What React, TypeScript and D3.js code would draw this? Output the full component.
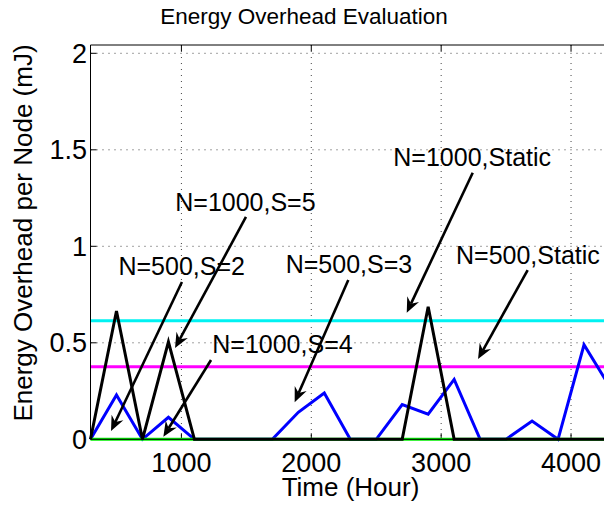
import React from "react";
import * as d3 from "d3";

const hours = [300, 500, 700, 900, 1100, 1300, 1500, 1700, 1900, 2100, 2300, 2500, 2700, 2900, 3100, 3300, 3500, 3700, 3900, 4100, 4300];
const blueSeries = [0, 0.23, 0, 0.114, 0, 0, 0, 0, 0.14, 0.24, 0, 0, 0.18, 0.13, 0.31, 0, 0, 0.095, 0, 0.49, 0.27];
const greenSeries = [0, 0, 0, 0, 0, 0, 0, 0, 0, 0, 0, 0, 0, 0, 0, 0, 0, 0, 0, 0, 0];
const blackSeries = [0, 0.665, 0, 0.505, 0, 0, 0, 0, 0, 0, 0, 0, 0, 0.687, 0, 0, 0, 0, 0, 0, 0];
const staticN1000 = 0.6145;
const staticN500 = 0.376;

const xTicks = [1000, 2000, 3000, 4000];
const yTicks = [0, 0.5, 1, 1.5, 2];
const yTickLabels = ["0", "0.5", "1", "1.5", "2"];

// annotation: label, text position (hour, mJ), arrow tail and head (hour, mJ)
const annLabels = ["N=500,S=2", "N=1000,S=5", "N=1000,S=4", "N=500,S=3", "N=1000,Static", "N=500,Static"];
const annText = [[1002, 0.851], [1493, 1.183], [1778, 0.446], [2290, 0.863], [3239, 1.416], [3668, 0.908]];
const annTail = [[1004, 0.815], [1497, 1.152], [1228, 0.411], [2285, 0.825], [3243, 1.381], [3666, 0.877]];
const annHead = [[458, 0.043], [951, 0.473], [861, 0.0135], [1872, 0.192], [2735, 0.656], [3284, 0.416]];

const W = 604;
const H = 508;
const FONT = "'Liberation Sans', Arial, Helvetica, sans-serif";

export default function App() {
  const x = d3.scaleLinear().domain([300, 4300]).range([90.5, 610]);
  const y = d3.scaleLinear().domain([0, 2.043]).range([439.3, 45]);
  const left = 90.5;
  const right = 610;
  const top = 45;
  const bottom = 439.3;

  const line = d3
    .line<number>()
    .x((_, i) => x(hours[i]))
    .y((d) => y(d));

  const arrowHead = (hx: number, hy: number, tx: number, ty: number) => {
    const dx = hx - tx;
    const dy = hy - ty;
    const len = Math.sqrt(dx * dx + dy * dy);
    const ux = dx / len;
    const uy = dy / len;
    const px = -uy;
    const py = ux;
    const L = 15;
    const Wd = 6.5;
    const N = 10;
    const p = d3.path();
    p.moveTo(hx, hy);
    p.lineTo(hx - ux * L + px * Wd, hy - uy * L + py * Wd);
    p.lineTo(hx - ux * N, hy - uy * N);
    p.lineTo(hx - ux * L - px * Wd, hy - uy * L - py * Wd);
    p.closePath();
    return p.toString();
  };

  return (
    <svg
      width={W}
      height={H}
      style={{ position: "absolute", left: 0, top: 0, background: "#fff" }}
      fontFamily={FONT}
    >
      <rect x={0} y={0} width={W} height={H} fill="#fff" />
      {/* grid */}
      {xTicks.map((t) => (
        <line key={"gx" + t} x1={x(t)} x2={x(t)} y1={top} y2={bottom} stroke="#444" strokeWidth={1} strokeDasharray="1,5" />
      ))}
      {yTicks.slice(1).map((t) => (
        <line key={"gy" + t} x1={left} x2={right} y1={y(t)} y2={y(t)} stroke="#444" strokeWidth={1} strokeDasharray="1,5" />
      ))}
      {/* ticks */}
      {xTicks.map((t) => (
        <g key={"tx" + t}>
          <line x1={x(t)} x2={x(t)} y1={bottom} y2={bottom - 6} stroke="#000" strokeWidth={1} />
          <line x1={x(t)} x2={x(t)} y1={top} y2={top + 6} stroke="#000" strokeWidth={1} />
          <text x={x(t)} y={471.5} textAnchor="middle" fontSize={27} fill="#000">
            {t}
          </text>
        </g>
      ))}
      {yTicks.map((t, i) => (
        <g key={"ty" + t}>
          <line x1={left} x2={left + 6} y1={y(t)} y2={y(t)} stroke="#000" strokeWidth={1} />
          <text x={87} y={y(t) + 9.6} textAnchor="end" fontSize={27} fill="#000">
            {yTickLabels[i]}
          </text>
        </g>
      ))}
      {/* static lines */}
      <line x1={x(300)} x2={x(4300)} y1={y(staticN1000)} y2={y(staticN1000)} stroke="#00F2F2" strokeWidth={3} />
      <line x1={x(300)} x2={x(4300)} y1={y(staticN500)} y2={y(staticN500)} stroke="#FF00FF" strokeWidth={3} />
      {/* series */}
      <path d={line(blueSeries) || ""} fill="none" stroke="#0000FF" strokeWidth={3} strokeLinejoin="miter" />
      <path d={line(greenSeries) || ""} fill="none" stroke="#00EE00" strokeWidth={3} />
      <path d={line(blackSeries) || ""} fill="none" stroke="#000" strokeWidth={3} />
      {/* axes box */}
      <line x1={left} x2={right} y1={top} y2={top} stroke="#000" strokeWidth={1} />
      <line x1={left} x2={left} y1={top} y2={bottom} stroke="#000" strokeWidth={1} />
      <line x1={left} x2={right} y1={bottom} y2={bottom} stroke="#000" strokeWidth={1} />
      {/* annotations */}
      {annLabels.map((lab, i) => {
        const tx = x(annTail[i][0]);
        const ty = y(annTail[i][1]);
        const hx = x(annHead[i][0]);
        const hy = y(annHead[i][1]);
        const dx = hx - tx;
        const dy = hy - ty;
        const len = Math.sqrt(dx * dx + dy * dy);
        const ex = hx - (dx / len) * 10;
        const ey = hy - (dy / len) * 10;
        return (
          <g key={lab}>
            <line x1={tx} y1={ty} x2={ex} y2={ey} stroke="#000" strokeWidth={2.6} />
            <path d={arrowHead(hx, hy, tx, ty)} fill="#000" />
            <text x={x(annText[i][0])} y={y(annText[i][1])} textAnchor="middle" fontSize={25} fill="#000">
              {lab}
            </text>
          </g>
        );
      })}
      {/* labels */}
      <text x={304} y={24} textAnchor="middle" fontSize={22.5} fill="#000">
        Energy Overhead Evaluation
      </text>
      <text x={350.5} y={495.5} textAnchor="middle" fontSize={26} fill="#000">
        Time (Hour)
      </text>
      <text transform="translate(31.5,233) rotate(-90)" textAnchor="middle" fontSize={26} fill="#000">
        Energy Overhead per Node (mJ)
      </text>
    </svg>
  );
}
